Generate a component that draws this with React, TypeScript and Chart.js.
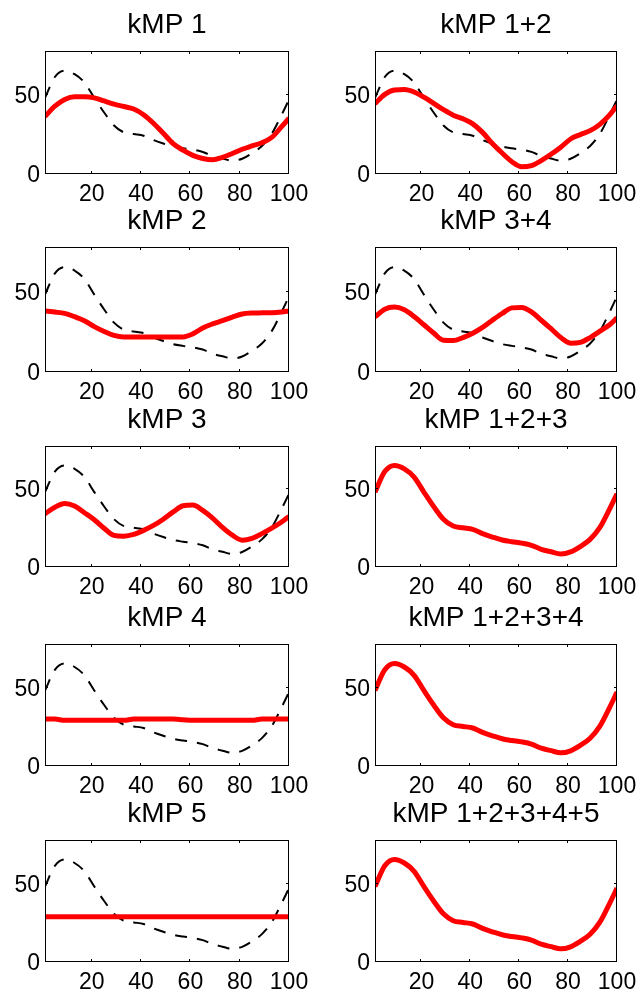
import React, { useEffect, useRef } from 'react';
import Chart from 'chart.js/auto';

// ---- data ----
const xs = [1, 5, 9, 13, 17, 21, 25, 29, 33, 37, 41, 45, 49, 53, 57, 61, 65, 69, 73, 77, 81, 85, 89, 93, 97, 100];
const reference = [48.3, 61.5, 65.5, 63.3, 58, 48.3, 39, 30.8, 26.4, 25.3, 24.3, 21.5, 19.3, 17.4, 16.3, 15.4, 14, 11.4, 9.8, 8.4, 9.7, 13.2, 17.8, 25.5, 37.5, 47.2];
const kmp1 = [36.5, 43, 47.3, 49, 49, 48.3, 46.3, 44.3, 42.8, 41.2, 37.6, 32.2, 25.8, 19.3, 15.1, 11.8, 9.8, 9, 10.5, 13, 15.7, 17.8, 19.8, 23.2, 30, 35.4];
const kmp12 = [44.6, 50.5, 53.3, 53.6, 52, 48.7, 44.8, 40.8, 37.3, 35, 31.8, 26.4, 19.3, 13.3, 7.8, 4.6, 5.3, 8.5, 12.5, 17, 22.2, 25, 27.5, 31.5, 37.5, 43.3];
const kmp2 = [38.1, 37.4, 36.6, 34.5, 32, 28.3, 25.3, 22.8, 21.9, 21.9, 21.9, 21.9, 21.9, 21.9, 21.9, 23.8, 27.5, 30, 32, 34.2, 36.2, 36.8, 36.9, 37, 37.5, 38.1];
const kmp34 = [34.4, 39.2, 40.5, 38.8, 34.6, 29.5, 24.3, 19.8, 19.6, 21.5, 24.2, 27.8, 32.3, 36.5, 40, 40.3, 37.5, 32.3, 27, 21.5, 18, 18.5, 21.5, 25.5, 29.5, 33.8];
const kmp3 = [34.3, 38.5, 41, 39.3, 35, 30.5, 25, 20.4, 19.9, 21, 23.6, 26.8, 30.8, 35.5, 39.5, 40, 36.5, 31.5, 25.5, 20.5, 17.3, 18.5, 21.5, 25, 29, 32.6];
const kmp123 = [48.3, 61.5, 65.5, 63.3, 58, 48.3, 39, 30.8, 26.4, 25.3, 24.3, 21.5, 19.3, 17.4, 16.3, 15.4, 14, 11.4, 9.8, 8.4, 9.7, 13.2, 17.8, 25.5, 37.5, 47.2];
const kmp4 = [30, 30, 29.2, 29.2, 29.2, 29.2, 29.2, 29.2, 29.2, 30, 30, 30, 30, 30, 29.6, 29.2, 29.2, 29.2, 29.2, 29.2, 29.2, 29.2, 30, 30, 30, 30];
const kmp1234 = [48.3, 61.5, 65.5, 63.3, 58, 48.3, 39, 30.8, 26.4, 25.3, 24.3, 21.5, 19.3, 17.4, 16.3, 15.4, 14, 11.4, 9.8, 8.4, 9.7, 13.2, 17.8, 25.5, 37.5, 47.2];
const kmp5 = [29, 29, 29, 29, 29, 29, 29, 29, 29, 29, 29, 29, 29, 29, 29, 29, 29, 29, 29, 29, 29, 29, 29, 29, 29, 29];
const kmp12345 = [48.3, 61.5, 65.5, 63.3, 58, 48.3, 39, 30.8, 26.4, 25.3, 24.3, 21.5, 19.3, 17.4, 16.3, 15.4, 14, 11.4, 9.8, 8.4, 9.7, 13.2, 17.8, 25.5, 37.5, 47.2];

const titles = ['kMP 1', 'kMP 1+2', 'kMP 2', 'kMP 3+4', 'kMP 3', 'kMP 1+2+3', 'kMP 4', 'kMP 1+2+3+4', 'kMP 5', 'kMP 1+2+3+4+5'];
const series = [kmp1, kmp12, kmp2, kmp34, kmp3, kmp123, kmp4, kmp1234, kmp5, kmp12345];
const xTicks = [20, 40, 60, 80, 100];
const yTicks = [0, 50];
const X_MIN = 1;
const X_MAX = 100;
const Y_MIN = 0;
const Y_MAX = 78;

// ---- layout ----
const FONT = 'Liberation Sans, Arial, Helvetica, sans-serif';
const COL_BOX = [[45, 289], [375, 617]];
const ROW_BOX = [[51, 174], [247, 372], [446, 567], [644, 766], [840, 962]];
const TITLE_H = 52;
const XAXIS_H = 40;
const COL_W = 321;

const boxPlugin = {
  id: 'matlabBox',
  afterDatasetsDraw(chart: any) {
    const { ctx, chartArea, scales } = chart;
    const { left, right, top, bottom } = chartArea;
    const x = scales.x;
    const y = scales.y;
    ctx.save();
    ctx.strokeStyle = '#000';
    ctx.lineWidth = 1;
    ctx.strokeRect(left + 0.5, top + 0.5, right - left - 1, bottom - top - 1);
    ctx.beginPath();
    const tl = 3;
    for (const v of xTicks) {
      const px = Math.round(x.getPixelForValue(v)) - 0.5;
      ctx.moveTo(px, bottom);
      ctx.lineTo(px, bottom - tl);
      ctx.moveTo(px, top);
      ctx.lineTo(px, top + tl);
    }
    for (const v of yTicks) {
      const py = Math.round(y.getPixelForValue(v)) - 0.5;
      ctx.moveTo(left, py);
      ctx.lineTo(left + tl, py);
      ctx.moveTo(right, py);
      ctx.lineTo(right - tl, py);
    }
    ctx.stroke();
    ctx.restore();
  },
};

function Panel({ index }: { index: number }) {
  const ref = useRef<HTMLCanvasElement | null>(null);
  const col = index % 2;
  const row = Math.floor(index / 2);
  const [bl, br] = COL_BOX[col];
  const [bt, bb] = ROW_BOX[row];
  const cLeft = col * COL_W;
  const cTop = bt - TITLE_H;
  const cH = TITLE_H + (bb - bt) + XAXIS_H;
  const yAxisW = bl - cLeft;
  const padRight = cLeft + COL_W - br;

  useEffect(() => {
    if (!ref.current) return;
    const values = series[index];
    const chart = new Chart(ref.current, {
      type: 'line',
      data: {
        datasets: [
          {
            data: xs.map((x, i) => ({ x, y: values[i] })),
            borderColor: '#ff0000',
            borderWidth: 5,
            pointRadius: 0,
            cubicInterpolationMode: 'monotone',
            borderJoinStyle: 'round',
            clip: 0,
          } as any,
          {
            data: xs.map((x, i) => ({ x, y: reference[i] })),
            borderColor: '#000000',
            borderWidth: 2,
            borderDash: [12, 10],
            pointRadius: 0,
            cubicInterpolationMode: 'monotone',
            clip: 0,
          } as any,
        ],
      },
      options: {
        responsive: false,
        maintainAspectRatio: false,
        animation: false,
        devicePixelRatio: 1,
        events: [],
        layout: { padding: { left: 0, right: padRight, top: 0, bottom: 0 } },
        plugins: {
          legend: { display: false },
          tooltip: { enabled: false },
          title: {
            display: true,
            text: titles[index],
            fullSize: false,
            color: '#000',
            font: { family: FONT, size: 28, weight: 'normal', lineHeight: 1 },
            padding: { top: 12, bottom: 12 },
          },
        },
        scales: {
          x: {
            type: 'linear',
            min: X_MIN,
            max: X_MAX,
            grid: { display: false, drawTicks: false },
            border: { display: false },
            ticks: {
              color: '#000',
              font: { family: FONT, size: 23, lineHeight: 1 },
              padding: 9,
              maxRotation: 0,
              autoSkip: false,
            },
            afterBuildTicks: (s: any) => {
              s.ticks = xTicks.map((v) => ({ value: v }));
            },
            afterFit: (s: any) => {
              s.height = XAXIS_H;
              s.paddingLeft = 0;
              s.paddingRight = 0;
            },
          },
          y: {
            type: 'linear',
            min: Y_MIN,
            max: Y_MAX,
            grid: { display: false, drawTicks: false },
            border: { display: false },
            ticks: {
              color: '#000',
              font: { family: FONT, size: 23, lineHeight: 1 },
              padding: 5,
              labelOffset: 1.5,
              autoSkip: false,
            },
            afterBuildTicks: (s: any) => {
              s.ticks = yTicks.map((v) => ({ value: v }));
            },
            afterFit: (s: any) => {
              s.width = yAxisW;
              s.paddingTop = 0;
              s.paddingBottom = 0;
            },
          },
        },
      } as any,
      plugins: [boxPlugin],
    });
    return () => chart.destroy();
  }, [index]);

  return (
    <canvas
      ref={ref}
      width={COL_W}
      height={cH}
      style={{ position: 'absolute', left: cLeft, top: cTop, width: COL_W, height: cH }}
    />
  );
}

export default function App() {
  return (
    <div
      style={{
        position: 'absolute',
        left: 0,
        top: 0,
        width: 642,
        height: 994,
        overflow: 'hidden',
        background: '#fff',
      }}
    >
      {titles.map((_, i) => (
        <Panel key={i} index={i} />
      ))}
    </div>
  );
}
